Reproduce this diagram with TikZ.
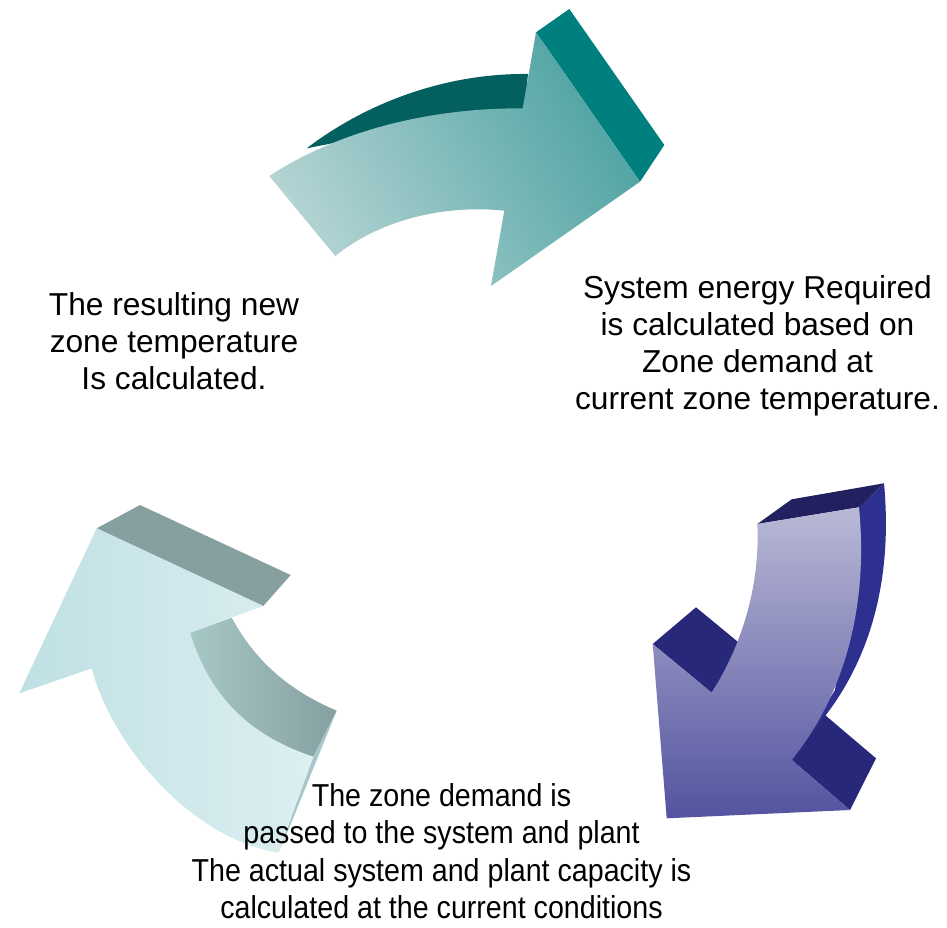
\documentclass[tikz,border=0pt]{standalone}
\usepackage{fontspec}
\setmainfont{Liberation Sans}
\newfontfamily\condensedfont[FakeStretch=0.903]{Liberation Sans}
\begin{document}
\begin{tikzpicture}[x=1pt,y=-1pt,
  lbl/.style={inner sep=0pt,align=center,anchor=base,font=\fontsize{31.7}{37.2}\selectfont},
  face/.style={draw=none}]
\useasboundingbox[fill=white] (0,0) rectangle (947,927);
\definecolor{tealdark}{HTML}{007F7F}
\definecolor{tealtop}{HTML}{045F5F}
\definecolor{teallight}{HTML}{B4D3D3}
\definecolor{tealmid}{HTML}{4FA3A3}
\definecolor{navy}{HTML}{27287A}
\definecolor{navytop}{HTML}{232060}
\definecolor{navyside}{HTML}{2E3090}
\definecolor{violight}{HTML}{B9B9D6}
\definecolor{viodark}{HTML}{5353A0}
\definecolor{cyanl}{HTML}{BFE0E4}
\definecolor{cyanll}{HTML}{DDEFF1}
\definecolor{greyteal}{HTML}{86A0A0}
\definecolor{greyteall}{HTML}{A7C7C7}
\definecolor{sliver}{HTML}{A6C8CC}

% ---- top arrow ----
\fill[tealtop] (306.7,148.3) .. controls (370,100) and (450,73) .. (528,74) -- (524,115) -- (400,130) -- cycle;
\fill[tealdark] (536,32.3) -- (569.3,9) -- (664.3,145) -- (640,181.7) -- cycle;
\shade[face,top color=tealmid,bottom color=teallight,shading angle=-60]
  (269.3,176) -- (335.3,256) .. controls (377,222) and (440,204) .. (504.3,210.7)
  -- (491,286) -- (640,181.7) -- (536,32.3) -- (522.7,108.3)
  .. controls (430,108) and (340,130) .. (269.3,176) -- cycle;

% ---- right arrow ----
\fill[navyside] (884,483.3) .. controls (893,580) and (870,660) .. (822,720) -- (791.7,760) -- (835,690) -- (859,507.3) -- cycle;
\fill[navytop] (757.3,524) -- (791.7,499.3) -- (884,483.3) -- (859,507.3) -- cycle;
\fill[navy] (791.7,760) -- (825,715) -- (876,758.3) -- (850,810) -- cycle;
\fill[navy] (652.7,644) -- (696,607.3) -- (741.7,645) -- (711.7,692.7) -- cycle;
\shade[face,top color=violight,bottom color=viodark]
  (757.3,524) -- (859,507.3) .. controls (868,600) and (848,690) .. (791.7,760)
  -- (850,810) -- (666.7,818.3) -- (652.7,644) -- (711.7,692.7)
  .. controls (745,640) and (760,580) .. (757.3,524) -- cycle;

% ---- left arrow ----
\fill[greyteal] (96.7,528.3) -- (140,505) -- (290.7,575) -- (263.3,606) -- cycle;
\shade[face,left color=greyteall,right color=greyteal]
  (190,632.7) -- (231.7,617.7) .. controls (260,670) and (300,695) .. (336.7,710.7)
  -- (313.3,756.7) .. controls (255,738) and (210,700) .. (190,632.7) -- cycle;
\fill[sliver] (336.7,710.7) -- (290,826) -- (278.3,852.7) -- (313.3,756.7) -- cycle;
\shade[face,left color=cyanl,right color=cyanll]
  (96.7,528.3) -- (263.3,606) -- (190,632.7)
  .. controls (210,700) and (255,738) .. (313.3,756.7)
  -- (278.3,852.7) .. controls (190,838) and (112,745) .. (91.7,668.3)
  -- (19.3,693.3) -- cycle;

% ---- texts ----
\node[lbl] (zonetemp) at (174,389.4) {The resulting new\\zone temperature\\Is calculated.};
\node[lbl] (sysenergy) at (757.5,409.9) {System energy Required\\is calculated based on\\Zone demand at\\current zone temperature.};
\node[lbl,font=\condensedfont\fontsize{31.7}{37.2}\selectfont] (demand) at (441.5,918.3) {The zone demand is\\passed to the system and plant\\The actual system and plant capacity is\\calculated at the current conditions};
\end{tikzpicture}
\end{document}
